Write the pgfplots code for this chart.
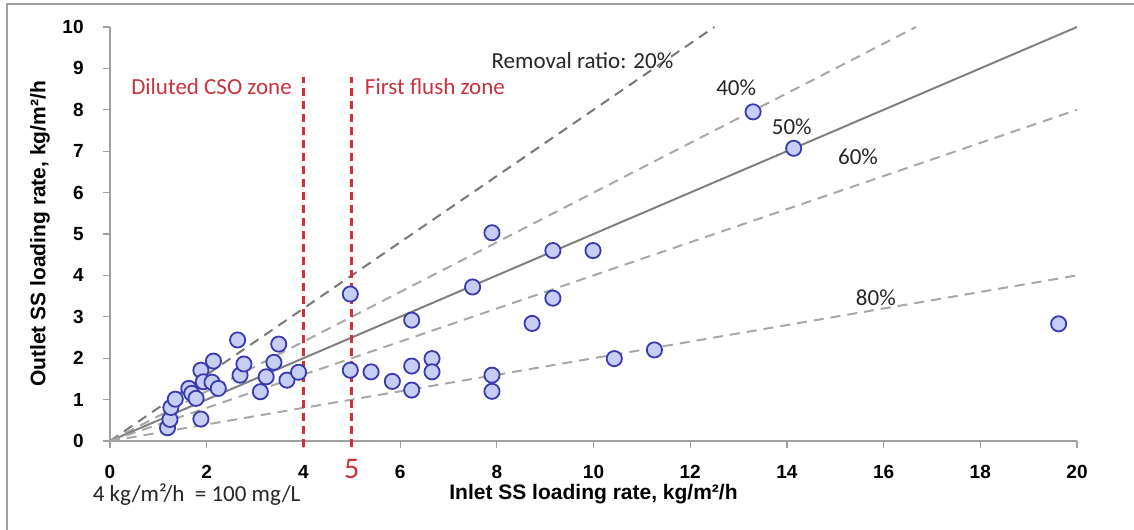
\documentclass[border=0pt]{standalone}
\usepackage{pgfplots}
\pgfplotsset{compat=1.18}
\usepackage{fontspec}
\setmainfont{Carlito}
\newfontfamily\arialfont{Liberation Sans}

\definecolor{markfill}{RGB}{198,206,245}
\definecolor{markedge}{RGB}{58,58,176}
\definecolor{zonered}{RGB}{212,46,56}
\definecolor{zonetext}{RGB}{200,50,62}
\definecolor{ratiogray}{RGB}{168,168,168}
\definecolor{darkratio}{RGB}{120,120,120}
\definecolor{solidgray}{RGB}{128,128,128}
\definecolor{axisgray}{RGB}{160,160,160}
\definecolor{notegray}{RGB}{38,38,38}

% inlet vs outlet SS loading rate, kg/m2/h
\pgfplotstableread{
x y
1.19 0.32
1.24 0.52
1.26 0.81
1.35 1.01
1.63 1.27
1.69 1.15
1.78 1.03
1.88 1.71
1.88 0.53
1.93 1.43
2.11 1.42
2.14 1.93
2.24 1.27
2.64 2.44
2.69 1.59
2.77 1.86
3.11 1.19
3.23 1.55
3.39 1.90
3.49 2.34
3.66 1.47
3.90 1.66
4.97 3.55
4.97 1.71
5.40 1.67
5.84 1.44
6.24 2.92
6.24 1.81
6.24 1.23
6.66 1.99
6.66 1.67
7.50 3.72
7.90 5.03
7.90 1.59
7.90 1.20
8.73 2.84
9.16 4.60
9.16 3.45
9.99 4.60
10.43 1.99
11.26 2.20
13.30 7.95
14.14 7.07
19.62 2.83
}\loaddata

\newcommand{\notefont}{\fontsize{11.5bp}{13bp}\selectfont}

\begin{document}
\begin{tikzpicture}
\path[use as bounding box] (-55bp,-44.5bp) rectangle (512bp,220.5bp);
\draw[axisgray, line width=0.8bp] (-51.5bp,-44.5bp) -- (-51.5bp,218.5bp) -- (512bp,218.5bp);
\begin{axis}[
  at={(0,0)}, anchor=south west,
  scale only axis, width=483.5bp, height=207bp,
  xmin=0, xmax=20, ymin=0, ymax=10,
  clip=false,
  axis x line*=bottom, axis y line*=left,
  axis line style={axisgray, line width=0.6bp},
  xtick={0,2,...,20}, ytick={0,1,...,10},
  tick align=outside, major tick length=3.5bp,
  tick style={axisgray, line width=0.6bp},
  /pgf/number format/assume math mode=true,
  ticklabel style={font=\arialfont\fontsize{9.5bp}{11bp}\selectfont\bfseries, inner sep=0pt},
  xticklabel style={anchor=center, yshift=-12bp},
  yticklabel style={anchor=east, xshift=-9.5bp},
  xlabel={Inlet SS loading rate, kg/m²/h},
  ylabel={Outlet SS loading rate, kg/m²/h},
  label style={font=\arialfont\fontsize{10.5bp}{12bp}\selectfont\bfseries},
  xlabel style={at={(axis description cs:0.5,-0.128)}, anchor=center},
  ylabel style={at={(axis description cs:-0.0724,0.5)}, anchor=center},
]
% removal ratio guide lines
\addplot[darkratio, line width=1bp, dash pattern=on 5bp off 3.5bp] coordinates {(0,0) (12.5,10)};
\addplot[ratiogray, line width=1bp, dash pattern=on 5bp off 3.5bp] coordinates {(0,0) (16.67,10)};
\addplot[solidgray, line width=1bp] coordinates {(0,0) (20,10)};
\addplot[ratiogray, line width=1bp, dash pattern=on 5bp off 3.5bp] coordinates {(0,0) (20,8)};
\addplot[ratiogray, line width=1bp, dash pattern=on 5bp off 3.5bp] coordinates {(0,0) (20,4)};

% observations
\addplot[only marks, mark=*, mark size=3.8bp,
  mark options={fill=markfill, draw=markedge, line width=0.9bp}] table[x=x, y=y] {\loaddata};

% zone boundaries
\addplot[zonered, line width=1.6bp, dash pattern=on 4bp off 2.5bp] coordinates {(4,-0.15) (4,8.8)};
\addplot[zonered, line width=1.6bp, dash pattern=on 4bp off 2.5bp] coordinates {(5,-0.15) (5,8.8)};

\node[font=\notefont, text=zonetext] at (axis cs:2.10,8.55) {Diluted CSO zone};
\node[font=\notefont, text=zonetext] at (axis cs:6.72,8.55) {First flush zone};
\node[font=\notefont, text=notegray] at (axis cs:9.77,9.2) {Removal ratio: 20\%};
\node[font=\notefont, text=notegray] at (axis cs:12.95,8.53) {40\%};
\node[font=\notefont, text=notegray] at (axis cs:14.1,7.58) {50\%};
\node[font=\notefont, text=notegray] at (axis cs:15.47,6.86) {60\%};
\node[font=\notefont, text=notegray] at (axis cs:15.84,3.45) {80\%};
\node[font=\fontsize{15bp}{17bp}\selectfont, text=zonered, inner sep=0pt, anchor=base]
  at ([yshift=-18.5bp]axis cs:5,0) {5};
\node[font=\notefont, text=notegray, anchor=west]
  at ([yshift=-27bp]axis cs:-0.5,0) {4 kg/m²/h\ \ = 100 mg/L};
\end{axis}
\end{tikzpicture}
\end{document}
